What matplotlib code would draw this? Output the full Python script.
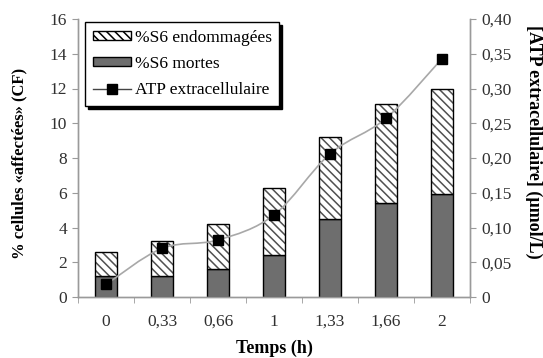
import matplotlib
matplotlib.use("Agg")
import matplotlib.pyplot as plt
import numpy as np
from matplotlib.path import Path
from matplotlib.patches import PathPatch, Patch
from matplotlib.lines import Line2D

plt.rcParams['font.family'] = ['Liberation Serif', 'DejaVu Serif']
plt.rcParams['hatch.linewidth'] = 1.1

categories = ['0', '0,33', '0,66', '1', '1,33', '1,66', '2']
mortes = [1.2, 1.2, 1.6, 2.4, 4.5, 5.4, 5.95]
totales = [2.6, 3.2, 4.2, 6.3, 9.2, 11.1, 12.0]
endommagees = [t - m for t, m in zip(totales, mortes)]
atp = [0.018, 0.070, 0.082, 0.118, 0.206, 0.257, 0.343]

left_ticks = [0, 2, 4, 6, 8, 10, 12, 14, 16]
right_ticks = [0, 0.05, 0.10, 0.15, 0.20, 0.25, 0.30, 0.35, 0.40]
right_labels = ['0', '0,05', '0,10', '0,15', '0,20', '0,25', '0,30', '0,35', '0,40']

fs = 12.5
fig = plt.figure(figsize=(5.43, 3.58), dpi=100)
ax = fig.add_axes([78/543, 1-297/358, (470-78)/543, (297-19)/358])
ax2 = ax.twinx()

x = np.arange(len(categories))
w = 0.41
dark = '#6e6e6e'
spine_col = '#9a9a9a'
txt_col = '#303030'

ax.bar(x, mortes, w, color=dark, edgecolor='black', linewidth=1.0, zorder=2)
ax.bar(x, endommagees, w, bottom=mortes, color='white', edgecolor='#505050',
       hatch='\\\\\\\\', linewidth=0, zorder=2)
ax.bar(x, endommagees, w, bottom=mortes, fill=False, edgecolor='black',
       linewidth=1.0, zorder=3)

# smoothed line through ATP points (Catmull-Rom -> cubic Bezier)
pts = np.column_stack([x, atp]).astype(float)
verts = [tuple(pts[0])]
codes = [Path.MOVETO]
n = len(pts)
for i in range(n - 1):
    p0 = pts[i - 1] if i > 0 else pts[i]
    p1 = pts[i]
    p2 = pts[i + 1]
    p3 = pts[i + 2] if i + 2 < n else pts[i + 1]
    c1 = p1 + (p2 - p0) / 6.0
    c2 = p2 - (p3 - p1) / 6.0
    verts += [tuple(c1), tuple(c2), tuple(p2)]
    codes += [Path.CURVE4] * 3
ax2.add_patch(PathPatch(Path(verts, codes), fill=False, edgecolor='#a8a8a8',
                        linewidth=1.2, zorder=4))
ax2.plot(x, atp, linestyle='none', marker='s', markersize=6.5,
         color='black', zorder=5)

ax.set_xlim(-0.5, len(categories) - 0.5)
ax.set_ylim(0, 16)
ax2.set_ylim(0, 0.40)
ax.set_yticks(left_ticks)
ax.set_yticklabels([str(t) for t in left_ticks])
ax2.set_yticks(right_ticks)
ax2.set_yticklabels(right_labels)

ax.set_xticks(x)
ax.set_xticklabels(categories)
ax.set_xticks(np.arange(len(categories) + 1) - 0.5, minor=True)
ax.tick_params(axis='x', which='major', length=0, pad=12, labelsize=fs, labelcolor=txt_col)
ax.tick_params(axis='x', which='minor', length=4, color=spine_col, direction='out')
ax.tick_params(axis='y', length=4, color=spine_col, labelsize=fs, labelcolor=txt_col, pad=4)
ax2.tick_params(axis='y', length=4, color=spine_col, labelsize=fs, labelcolor=txt_col, pad=4)

for a in (ax, ax2):
    a.spines['top'].set_visible(False)
    for s in ('left', 'right', 'bottom'):
        a.spines[s].set_color(spine_col)
        a.spines[s].set_linewidth(1.0)

ax.set_xlabel('Temps (h)', fontsize=13, fontweight='bold', va='center')
ax.xaxis.set_label_coords(0.5, (297 - 348) / 278)
ax.set_ylabel('% cellules «affectées» (CF)', fontsize=12, fontweight='bold', va='center')
ax.yaxis.set_label_coords((19 - 78) / 392, 0.48)
ax2.set_ylabel('[ATP extracellulaire] (µmol/L)', fontsize=13, fontweight='bold',
               rotation=-90, va='center')
ax2.yaxis.set_label_coords((534 - 78) / 392, 0.56)

handles = [
    Patch(facecolor='white', edgecolor='black', hatch='\\\\\\\\', linewidth=1.0),
    Patch(facecolor=dark, edgecolor='black', linewidth=1.0),
    Line2D([], [], color='#444444', linewidth=1.0, marker='s', markersize=6.5,
           markerfacecolor='black', markeredgecolor='black'),
]
labels = ['%S6 endommagées', '%S6 mortes', 'ATP extracellulaire']
leg = ax.legend(handles, labels, loc='upper left', bbox_to_anchor=(0.018, 0.99),
                fontsize=fs, frameon=True, fancybox=False, edgecolor='black',
                shadow={'color': 'black', 'alpha': 1.0}, handlelength=2.2,
                handleheight=0.45, handletextpad=0.2, borderpad=0.45,
                labelspacing=0.6, borderaxespad=0.0)
leg.get_frame().set_linewidth(1.0)
leg.set_zorder(10)

fig.savefig('out.png', dpi=100)
